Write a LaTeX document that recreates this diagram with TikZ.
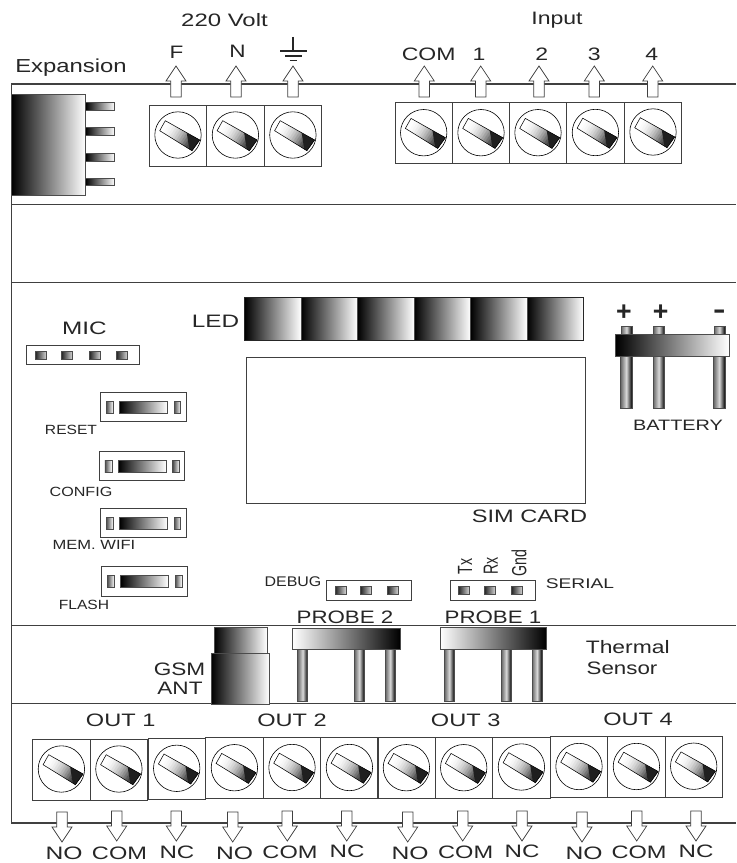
\documentclass[tikz,border=0pt]{standalone}
\usepackage{graphicx}
\usepackage{fontspec}
\setmainfont{Liberation Sans}
\tikzset{
  edge/.style={draw=black!75,line width=.85pt},
  thin edge/.style={draw=black!75,line width=.55pt},
  lr/.style={left color=black,right color=white,draw=black!70,line width=.5pt},
  rl/.style={left color=white,right color=black,draw=black!70,line width=.5pt},
  leg/.style={left color=black!60,right color=black,middle color=white!85!black,draw=black!70,line width=.5pt},
  lbl/.style={inner sep=0pt,outer sep=0pt,text=black!85,anchor=center},
  arrowshape/.style={fill=white,draw=black!75,line width=.55pt,line join=miter},
}
% terminal block: reference = top-left corner of box
\newcommand\terminal[2]{%
  \begin{scope}[shift={(#1,#2)}]
    \draw[thin edge] (0,0) rectangle (57.4,61);
    \draw[black,line width=.45pt,fill=white] (28.7,30) circle (23.2);
    \foreach \k in {0,...,15} {
      \pgfmathsetmacro\ta{\k/16}
      \pgfmathsetmacro\tb{(\k+1)/16}
      \pgfmathsetmacro\cc{min(72,100*\ta*\ta*1.15)}
      \fill[black!\cc,draw=black!\cc,line width=.1pt]
        (16+34.4*\ta,15.7+19.3*\ta) -- (16+34.4*\tb,15.7+19.3*\tb)
        -- (10.4+32.3*\tb,25.7+20*\tb) -- (10.4+32.3*\ta,25.7+20*\ta) -- cycle;
    }
    \fill[black!88] (37.5,28) -- (50.4,35) -- (42.7,45.7) -- (40,44) -- cycle;
    \draw[black,line width=.4pt] (16,15.7) -- (50.4,35) -- (42.7,45.7) -- (10.4,25.7) -- cycle;
  \end{scope}}
\newcommand\uparr[2]{%
  \draw[arrowshape] (#1,#2) -- (#1+10,#2+15) -- (#1+5.3,#2+15) -- (#1+5.3,#2+31)
    -- (#1-5.3,#2+31) -- (#1-5.3,#2+15) -- (#1-10,#2+15) -- cycle;}
\newcommand\dnarr[2]{%
  \draw[arrowshape] (#1,#2) -- (#1-10,#2-15) -- (#1-5.3,#2-15) -- (#1-5.3,#2-30)
    -- (#1+5.3,#2-30) -- (#1+5.3,#2-15) -- (#1+10,#2-15) -- cycle;}
% name, x, y, size(pt), xstretch, text
\newcommand\lab[6]{\node[lbl] (#1) at (#2,#3) {\fontsize{#4}{#4}\selectfont\scalebox{#5}[1]{#6}};}
\newcommand\pad[2]{\shade[left color=black!85,right color=white!85!black,draw=black!70,line width=.45pt] (#1-5.5,#2-4) rectangle (#1+5.5,#2+4);}
\newcommand\button[2]{%
  \begin{scope}[shift={(#1,#2)}]
    \draw[thin edge] (0,0) rectangle (85.3,29.3);
    \shade[left color=black!70,right color=white,draw=black!70,line width=.45pt] (5.5,9) rectangle (12.5,21);
    \shade[lr] (18.7,9) rectangle (66.5,21);
    \shade[left color=black!70,right color=white,draw=black!70,line width=.45pt] (73.3,9) rectangle (80,21);
  \end{scope}}
\begin{document}
\begin{tikzpicture}[x=.75pt,y=-.75pt]
\useasboundingbox (0,0) rectangle (736,863);
\fill[white] (0,0) rectangle (736,863);
% frame
\draw[edge] (736,84) -- (11.3,84) -- (11.3,823) -- (736,823);
\foreach \yy in {204,282,625.7,703} {\draw[thin edge] (11.3,\yy) -- (736,\yy);}

% expansion
\shade[lr] (11.5,94.5) rectangle (85.5,195);
\foreach \yy in {102.5,127.5,153.5,178} {\shade[lr] (85.5,\yy) rectangle (114.5,\yy+7.5);}

% 220 V
\foreach \xx in {149.3,206.7,264.2} {\terminal{\xx}{105}}
\uparr{176}{66}\uparr{236}{66}\uparr{293}{66}
\lab{volt}{224.5}{20}{13.5}{1.33}{220 Volt}
\lab{fase}{176.5}{52}{13.5}{1.25}{F}
\lab{neutro}{237.5}{51}{13.5}{1.25}{N}
\draw[black!85,line width=.8pt] (293,37) -- (293,50.5);
\draw[black!85,line width=.9pt] (280,51) -- (307,51);
\draw[black!85,line width=.9pt] (285,56) -- (302,56);
\draw[black!85,line width=.9pt] (289.5,60.5) -- (297,60.5);
\lab{expansion}{71}{68}{14.1}{1.27}{Expansion}

% input
\foreach \xx/\yy in {395/102.7,452.3/102.7,509.3/102.7,566.7/102.5,624.3/102} {\terminal{\xx}{\yy}}
\foreach \xx in {424.3,480.7,539,594.3,652.7} {\uparr{\xx}{66}}
\lab{input}{557}{20}{13.5}{1.28}{Input}
\lab{icom}{428.7}{54}{13.5}{1.28}{COM}
\lab{i1}{479}{54.5}{13.5}{1.28}{1}
\lab{i2}{541.7}{54.5}{13.5}{1.28}{2}
\lab{i3}{594.3}{54.5}{13.5}{1.28}{3}
\lab{i4}{651.7}{54.5}{13.5}{1.28}{4}

% LED, SIM
\lab{led}{215.5}{321}{13.5}{1.35}{LED}
\foreach \i in {0,...,5} {\shade[lr] (244.5+56.5*\i,297.5) rectangle (301+56.5*\i,340);}
\draw[thin edge,draw=black!85] (244.5,297.5) rectangle (583.5,340);
\draw[thin edge] (246,357.5) rectangle (585,503.5);
\lab{sim}{529.5}{516}{13.5}{1.31}{SIM CARD}

% MIC
\lab{mic}{84.5}{328}{13.5}{1.35}{MIC}
\draw[thin edge] (26.3,345.5) rectangle (139.5,364.5);
\foreach \xx in {41,67,95,122} {\pad{\xx}{355}}

% buttons
\button{100.7}{392.3}\button{99.4}{451.3}\button{100.7}{508.4}\button{101.8}{566.7}
\lab{reset}{71}{430}{10}{1.17}{RESET}
\lab{config}{81}{492}{10}{1.21}{CONFIG}
\lab{memw}{94}{545}{10}{1.24}{MEM. WIFI}
\lab{flash}{84}{605}{10}{1.17}{FLASH}

% debug, serial
\lab{debug}{293}{582}{10.5}{1.14}{DEBUG}
\draw[thin edge] (326.7,580.7) rectangle (411.7,600.3);
\foreach \xx in {340.7,366,393} {\pad{\xx}{590}}
\draw[thin edge] (450,580.7) rectangle (535,600.3);
\foreach \xx in {464,490,517} {\pad{\xx}{590}}
\lab{serial}{580}{584}{10.5}{1.37}{SERIAL}
\node[lbl,rotate=90] (tx) at (465,566.7) {\fontsize{15.4}{15.4}\selectfont\scalebox{.69}[1]{Tx}};
\node[lbl,rotate=90] (rx) at (490.7,566) {\fontsize{15.4}{15.4}\selectfont\scalebox{.69}[1]{Rx}};
\node[lbl,rotate=90] (gnd) at (519,563) {\fontsize{15.4}{15.4}\selectfont\scalebox{.69}[1]{Gnd}};

% probes
\lab{p2}{345}{617}{13.5}{1.24}{PROBE 2}
\lab{p1}{493}{617}{13.5}{1.24}{PROBE 1}
\shade[lr] (214,627) rectangle (267,653.5);
\shade[lr] (211,653.5) rectangle (269.3,704.5);
\lab{gsm}{179.5}{669}{13.5}{1.255}{GSM}
\lab{ant}{180}{688}{13.5}{1.255}{ANT}
\foreach \xx in {297.7,354.3,385.3} {\shade[leg] (\xx,649) rectangle (\xx+10,701.5);}
\shade[rl] (292.7,628) rectangle (400,649.5);
\foreach \xx in {444.3,501.3,532} {\shade[leg] (\xx,648.5) rectangle (\xx+10,701.5);}
\shade[rl] (440,627.7) rectangle (546.7,649.5);
\lab{therm}{627.7}{647}{13.5}{1.27}{Thermal}
\lab{sens}{622}{668}{13.5}{1.24}{Sensor}

% battery
\foreach \xx in {621,653.5,714} {
  \shade[leg] (\xx,326) rectangle (\xx+11,334);
  \shade[leg] (\xx-.5,356) rectangle (\xx+11,408.5);
}
\shade[lr] (615.7,334) rectangle (729,356.3);
\lab{bp1}{624}{312.5}{20}{1}{\textbf{+}}
\lab{bp2}{660.7}{312.5}{20}{1}{\textbf{+}}
\lab{bm}{719.3}{314}{20}{1.4}{\textbf{-}}
\lab{batt}{678}{425}{11.3}{1.32}{BATTERY}

% outputs
\lab{o1}{120.7}{720.5}{13.5}{1.31}{OUT 1}
\lab{o2}{292}{720.5}{13.5}{1.31}{OUT 2}
\lab{o3}{465.7}{720}{13.5}{1.31}{OUT 3}
\lab{o4}{638}{719}{13.5}{1.31}{OUT 4}
\foreach \xx/\yy in {32.7/739,90.2/739,148/738.3,205.7/737.7,263.3/737.5,320.7/737.5,377.7/737.7,435/737.7,492.7/737,550.3/736.5,607.7/736.5,665/736.2} {\terminal{\xx}{\yy}}
\foreach \xx/\yy in {62/842,116.7/841,176.3/841,232.7/842,287.3/841,346.7/841,407.7/842,462.7/841,522/841,582/842,636.7/841,696/841} {\dnarr{\xx}{\yy}}
\lab{l1}{64}{853.5}{13.5}{1.37}{NO}
\lab{l2}{119.5}{853.5}{13.5}{1.31}{COM}
\lab{l3}{177}{852.5}{13.5}{1.34}{NC}
\lab{l4}{234.5}{853.5}{13.5}{1.37}{NO}
\lab{l5}{290}{852.5}{13.5}{1.31}{COM}
\lab{l6}{347}{851.5}{13.5}{1.34}{NC}
\lab{l7}{410}{853.5}{13.5}{1.37}{NO}
\lab{l8}{465.7}{852.5}{13.5}{1.31}{COM}
\lab{l9}{522}{851.5}{13.5}{1.34}{NC}
\lab{l10}{584}{853}{13.5}{1.37}{NO}
\lab{l11}{639}{852.5}{13.5}{1.31}{COM}
\lab{l12}{696}{851.5}{13.5}{1.34}{NC}
\end{tikzpicture}
\end{document}
